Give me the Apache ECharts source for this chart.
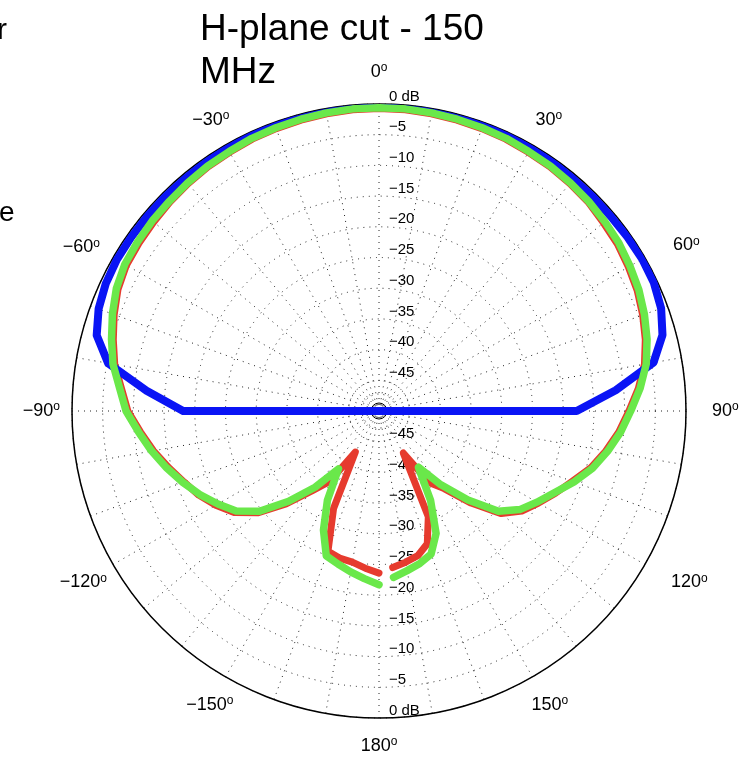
<!DOCTYPE html>
<html><head><meta charset="utf-8">
<script src="https://cdn.jsdelivr.net/npm/echarts@6/dist/echarts.min.js"></script>
<style>html,body{margin:0;padding:0;background:#fff}#c{width:741px;height:762px}</style>
</head><body><div id="c"></div>
<script>
// Angles (deg, 0 = boresight at top, clockwise positive)
const angles = [-180,-175,-170,-165,-160,-155,-150,-145,-140,-135,-130,-125,-120,-115,-110,-105,-100,-95,
  -90,-85,-80,-75,-70,-65,-60,-55,-50,-45,-40,-35,-30,-25,-20,-15,-10,-5,
  0,5,10,15,20,25,30,35,40,45,50,55,60,65,70,75,80,85,90,
  95,100,105,110,115,120,125,130,135,140,145,150,155,160,165,170,175];

// Pattern levels in dB
const blueDb = [-50,-50,-50,-50,-50,-50,-50,-50,-50,-50,-50,-50,-50,-50,-50,-50,-50,-50,
  -18.1,-12.0,-5.2,-2.4,-1.4,-0.9,-0.7,-0.7,-0.7,-0.7,-0.7,-0.6,-0.6,-0.5,-0.5,-0.4,-0.4,-0.4,
  -0.4,-0.4,-0.4,-0.4,-0.5,-0.5,-0.6,-0.6,-0.7,-0.7,-0.7,-0.6,-0.5,-0.6,-1.1,-2.2,-4.6,-11.3,-17.8,
  -50,-50,-50,-50,-50,-50,-50,-50,-50,-50,-50,-50,-50,-50,-50,-50,-50];

const greenDb = [-21.7,-22.6,-23.4,-24.2,-24.9,-28.6,-33.2,-38.5,-33.8,-29.2,-24.6,-21.6,-19.7,-17.8,-16.0,-14.2,-12.4,-10.7,
  -8.8,-7.6,-6.0,-4.9,-3.8,-2.8,-2.2,-2.0,-1.8,-1.7,-1.5,-1.3,-1.2,-1.0,-0.9,-0.8,-0.7,-0.6,
  -0.6,-0.6,-0.7,-0.8,-0.9,-1.0,-1.2,-1.3,-1.5,-1.7,-2.0,-2.3,-2.8,-3.3,-4.0,-4.8,-5.8,-7.3,-9.0,
  -10.5,-12.2,-14.0,-16.2,-18.5,-20.3,-22.0,-24.6,-29.5,-34.3,-38.8,-33.2,-28.0,-25.2,-24.3,-23.6,-22.8];

const redDb = [-23.6,-24.3,-25.0,-25.2,-25.7,-32.5,-42.3,-36.0,-33.0,-28.6,-24.2,-21.2,-19.3,-17.6,-16.2,-14.5,-12.7,-11.0,
  -9.1,-7.9,-6.3,-5.2,-4.1,-3.1,-2.5,-2.3,-2.1,-1.85,-1.65,-1.45,-1.35,-1.15,-1.05,-0.95,-0.85,-0.75,
  -0.75,-0.75,-0.85,-0.95,-1.05,-1.15,-1.35,-1.45,-1.65,-1.85,-2.3,-2.6,-3.1,-3.6,-4.3,-5.1,-6.1,-7.6,-9.3,
  -10.8,-12.5,-14.3,-16.5,-18.3,-20.0,-21.6,-24.0,-28.8,-33.5,-35.8,-42.1,-31.0,-27.0,-25.6,-25.0,-24.4];

const titleText = 'H-plane cut - 150\nMHz';
const clippedTexts = ['r', 'e'];
const dbMin = -50, dbMax = 0, dbStep = 5;

const FONT = '"Liberation Sans", Arial, Helvetica, sans-serif';
const CENTER = [379, 411], R = 307;
const dotted = {color: '#222', width: 1, type: [1, 5]};

// outward label nudges (style only): [horizontal px, vertical px]
const labelNudge = {
  '0': [0, 38], '30': [11, 29], '60': [42, 10], '90': [42, 0], '120': [40, 16], '150': [7, 32],
  '180': [0, 34], '-150': [0, 32], '-120': [20, 16], '-90': [28, 0], '-60': [27, 8], '-30': [4, 29]
};
const rich = {
  n: {fontFamily: FONT, fontSize: 18, color: '#000', lineHeight: 20},
  s: {fontFamily: FONT, fontSize: 12, color: '#000', lineHeight: 12, verticalAlign: 'top'}
};
Object.keys(labelNudge).forEach((k, i) => {
  rich['h' + i] = {width: Math.max(labelNudge[k][0], 0.1), fontSize: 1, lineHeight: 1};
  rich['v' + i] = {fontSize: 1, lineHeight: Math.max(labelNudge[k][1], 1)};
});
const nudgeKeys = Object.keys(labelNudge);

function toPts(arr) { return arr.map((v, i) => [v, angles[i]]); }
function dbLabel(v) { return v === 0 ? '0 dB' : '\u2212' + (-v); }
function angLabel(v) {
  if (v === 180) return '';
  const a = v === -180 ? 180 : v;
  const s = a < 0 ? '\u2212' + (-a) : String(a);
  const idx = nudgeKeys.indexOf(String(a));
  let t = '{n|' + s + '}{s|o}';
  if (idx < 0) return t;
  const nd = labelNudge[String(a)];
  if (nd[0] > 0) {
    if (a > 0 && a < 180) t = '{h' + idx + '| }' + t;
    else if (a < 0) t = t + '{h' + idx + '| }';
  }
  if (nd[1] > 0) {
    if (Math.abs(a) < 90) t = t + '\n{v' + idx + '| }';
    else if (Math.abs(a) > 90) t = '{v' + idx + '| }\n' + t;
  }
  return t;
}

const chart = echarts.init(document.getElementById('c'), null, {renderer: 'canvas'});
const hiddenAxis = {axisLine: {show: false}, axisTick: {show: false}, axisLabel: {show: false}, splitLine: {show: false}};

chart.setOption({
  animation: false,
  backgroundColor: '#fff',
  title: {
    text: titleText, left: 200, top: 8, padding: 0,
    textStyle: {fontFamily: FONT, fontSize: 37, fontWeight: 'normal', lineHeight: 43, color: '#000'}
  },
  graphic: [
    {type: 'text', x: -3, y: 16, style: {text: clippedTexts[0], fontFamily: FONT, fontSize: 30, fill: '#000'}},
    {type: 'text', x: -1, y: 199, style: {text: clippedTexts[1], fontFamily: FONT, fontSize: 28, fill: '#000'}}
  ],
  polar: [
    {center: CENTER, radius: R},
    {center: CENTER, radius: R},
    {center: CENTER, radius: 8},
    {center: CENTER, radius: 17}
  ],
  angleAxis: [
    {
      polarIndex: 0, type: 'value', min: -180, max: 180, interval: 30, startAngle: -90, clockwise: true,
      axisLine: {show: true, lineStyle: {color: '#000', width: 1.5}},
      axisTick: {show: false},
      splitLine: {show: true, lineStyle: dotted},
      minorTick: {show: false, splitNumber: 3},
      minorSplitLine: {show: true, lineStyle: dotted},
      axisLabel: {show: true, margin: -16, formatter: angLabel, rich: rich}
    },
    Object.assign({polarIndex: 1, type: 'value', min: -180, max: 180, startAngle: 90, clockwise: true}, hiddenAxis),
    Object.assign({polarIndex: 2, type: 'value', min: -180, max: 180, startAngle: 90}, hiddenAxis,
      {axisLine: {show: true, lineStyle: {color: '#000', width: 1}}}),
    Object.assign({polarIndex: 3, type: 'value', min: -180, max: 180, startAngle: 90}, hiddenAxis,
      {axisLine: {show: true, lineStyle: dotted}})
  ],
  radiusAxis: [
    {
      polarIndex: 0, type: 'value', min: dbMin, max: dbMax, interval: dbStep,
      axisLine: {show: false}, axisTick: {show: false},
      splitLine: {show: true, lineStyle: dotted},
      axisLabel: {show: true, showMinLabel: false, formatter: dbLabel, fontFamily: FONT, fontSize: 15, color: '#000',
        margin: 10, align: 'left', verticalAlign: 'bottom'}
    },
    {
      polarIndex: 1, type: 'value', min: dbMin, max: dbMax, interval: dbStep,
      axisLine: {show: false}, axisTick: {show: false}, splitLine: {show: false},
      axisLabel: {show: true, showMinLabel: false, formatter: dbLabel, fontFamily: FONT, fontSize: 15, color: '#000',
        margin: -10, align: 'left', verticalAlign: 'bottom'}
    },
    Object.assign({polarIndex: 2, type: 'value', min: 0, max: 1}, hiddenAxis),
    Object.assign({polarIndex: 3, type: 'value', min: 0, max: 1}, hiddenAxis)
  ],
  series: [
    {type: 'line', name: 'red', coordinateSystem: 'polar', polarIndex: 0, data: toPts(redDb), showSymbol: false, clip: false,
      lineStyle: {color: '#e63b2e', width: 7, join: 'round', cap: 'round'}, z: 3},
    {type: 'line', name: 'blue', coordinateSystem: 'polar', polarIndex: 0, data: toPts(blueDb), showSymbol: false, clip: false,
      lineStyle: {color: '#0a14f5', width: 8, join: 'round', cap: 'round'}, z: 4},
    {type: 'line', name: 'green', coordinateSystem: 'polar', polarIndex: 0, data: toPts(greenDb), showSymbol: false, clip: false,
      lineStyle: {color: '#6ae84a', width: 7.5, join: 'round', cap: 'round'}, z: 5}
  ]
});
</script>
</body></html>
